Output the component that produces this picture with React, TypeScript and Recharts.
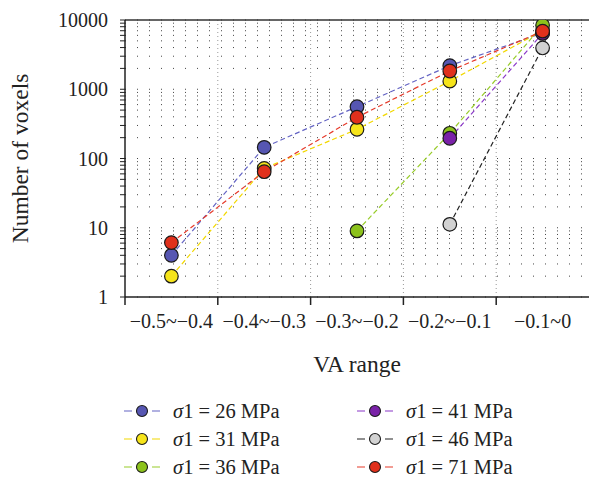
import { LineChart, Line, XAxis, YAxis, CartesianGrid, ReferenceLine } from "recharts";

const ranges = ["\u22120.5~\u22120.4", "\u22120.4~\u22120.3", "\u22120.3~\u22120.2", "\u22120.2~\u22120.1", "\u22120.1~0"];
const s26 = [4, 145, 560, 2190, 6500];
const s31 = [2, 72, 264, 1310, 7000];
const s36 = [null, null, 9, 231, 8400];
const s41 = [null, null, null, 196, 6400];
const s46 = [null, null, null, 11.2, 3950];
const s71 = [6.1, 64.5, 394, 1835, 6900];

const decades = [1, 10, 100, 1000, 10000];
const mantissas = [1, 2, 3, 4, 5, 6, 7, 8, 9];
const yTicks = decades.flatMap((d) => (d === 10000 ? [d] : mantissas.map((m) => m * d)));

const series = [
  { key: "s26", label: "26", fill: "#5656b2", line: "#6464c4", values: s26 },
  { key: "s31", label: "31", fill: "#f6e41a", line: "#f2d800", values: s31 },
  { key: "s36", label: "36", fill: "#8cc21c", line: "#98cc2a", values: s36 },
  { key: "s41", label: "41", fill: "#7a22a8", line: "#8a36c8", values: s41 },
  { key: "s46", label: "46", fill: "#d2d2d2", line: "#222222", values: s46 },
  { key: "s71", label: "71", fill: "#e0301c", line: "#e63a2a", values: s71 },
];

const data = ranges.map((r, i) => {
  const row: Record<string, string | number | null> = { range: r };
  series.forEach((s) => (row[s.key] = s.values[i]));
  return row;
});

const W = 589;
const H = 480;
const M = { top: 20, right: 0, left: 0, bottom: 93 };
const Y_W = 125;
const BAND = (W - Y_W - M.right) / ranges.length;
const FONT = "Liberation Serif";

function YTick(props: any) {
  const { x, y, payload } = props;
  if (!decades.includes(payload.value)) return <g />;
  return (
    <text x={x} y={y} dy={7} textAnchor="end" fontSize={20} fill="#222" fontFamily={FONT}>
      {payload.value}
    </text>
  );
}

function XTick(props: any) {
  const { x, y, payload } = props;
  return (
    <g>
      <line x1={x - BAND / 2} x2={x - BAND / 2} y1={y} y2={y + 8} stroke="#222" strokeWidth={1.5} />
      <text x={x} y={y + 31} textAnchor="middle" fontSize={20} fill="#222" fontFamily={FONT}>
        {payload.value}
      </text>
    </g>
  );
}

function makeDot(fill: string) {
  return (props: any) => {
    const { cx, cy, value } = props;
    if (value == null || cx == null || cy == null) return <g key={props.key} />;
    return <circle key={props.key} cx={cx} cy={cy} r={6.8} fill={fill} stroke="#1a1a1a" strokeWidth={1.2} />;
  };
}

export default function App() {
  return (
    <div style={{ position: "absolute", left: 0, top: 0, width: W, height: H, background: "#fff" }}>
      <LineChart width={W} height={H} data={data} margin={M}>
        <CartesianGrid vertical={false} stroke="#444" strokeDasharray="1 11" />
        <CartesianGrid
          horizontal={false}
          stroke="#999"
          strokeDasharray="1 3"
          verticalCoordinatesGenerator={({ offset }: any) =>
            [1, 2, 3, 4].map((i) => offset.left + (i * offset.width) / ranges.length)
          }
        />
        <ReferenceLine y={10000} stroke="#333" strokeWidth={1.5} />
        <XAxis
          dataKey="range"
          scale="band"
          height={90}
          tickSize={0}
          tickMargin={0}
          tickLine={false}
          interval={0}
          axisLine={{ stroke: "#222", strokeWidth: 1.5 }}
          tick={<XTick />}
          label={{ value: "VA range", position: "insideTop", offset: 58, fontSize: 23.5, fill: "#222", fontFamily: FONT }}
        />
        <YAxis
          type="number"
          scale="log"
          domain={[1, 10000]}
          allowDataOverflow
          ticks={yTicks}
          interval={0}
          width={Y_W}
          tickSize={5}
          tickMargin={12}
          axisLine={{ stroke: "#222", strokeWidth: 1.5 }}
          tickLine={{ stroke: "#222" }}
          tick={<YTick />}
          label={{
            value: "Number of voxels",
            angle: -90,
            position: "insideLeft",
            offset: 20,
            fontSize: 23.5,
            fill: "#222",
            fontFamily: FONT,
            style: { textAnchor: "middle" },
          }}
        />
        {series.map((s) => (
          <Line
            key={s.key}
            dataKey={s.key}
            stroke={s.line}
            strokeWidth={1.2}
            strokeDasharray="5 3"
            dot={makeDot(s.fill)}
            activeDot={false}
            isAnimationActive={false}
            connectNulls
          />
        ))}
      </LineChart>
      <div
        style={{
          position: "absolute",
          left: 124,
          top: 397,
          display: "grid",
          gridTemplateColumns: "233px 200px",
          gridTemplateRows: "repeat(3, 28px)",
          gridAutoFlow: "column",
          fontFamily: FONT,
          fontSize: 20.5,
          color: "#222",
        }}
      >
        {series.map((s) => (
          <div key={s.key} style={{ display: "flex", alignItems: "center", height: 28 }}>
            <svg width={36} height={16}>
              <line x1={0} x2={36} y1={8} y2={8} stroke={s.line} strokeWidth={1.2} strokeDasharray="8 20" />
              <circle cx={18} cy={8} r={5.5} fill={s.fill} stroke="#1a1a1a" strokeWidth={1.1} />
            </svg>
            <span style={{ marginLeft: 13, whiteSpace: "nowrap" }}>
              <i>σ</i>1 = {s.label} MPa
            </span>
          </div>
        ))}
      </div>
    </div>
  );
}
